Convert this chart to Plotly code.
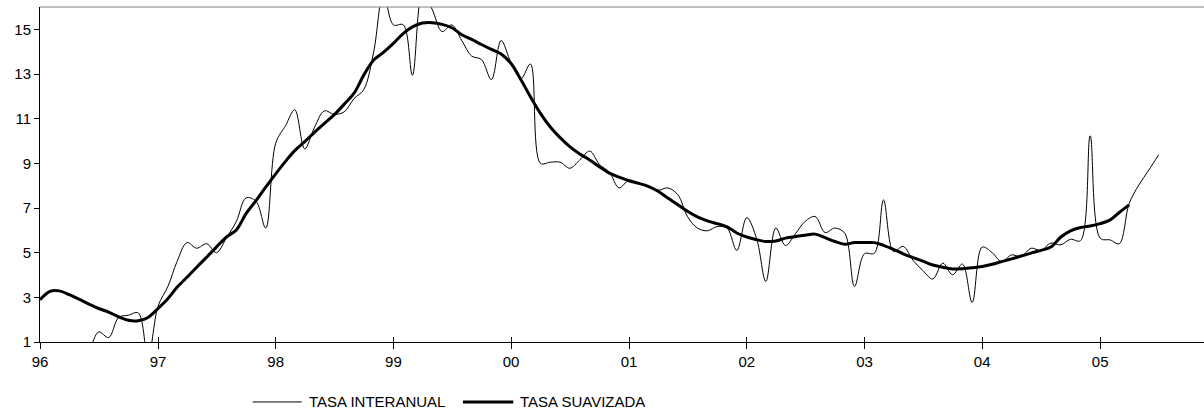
import pandas as pd
import plotly.graph_objects as go

# Monthly data, starting January 1996
start_month = "1996-01-01"

tasa_interanual = [
    0.4, 0.3, 0.3, 0.4, 0.5, 0.7, 1.45, 1.2, 2.1, 2.2, 2.3, 0.3,          # 1996
    2.6, 3.5, 4.6, 5.45, 5.2, 5.4, 5.0, 5.66, 6.4, 7.45, 7.3, 6.1,        # 1997
    9.9, 10.7, 11.4, 9.65, 10.6, 11.35, 11.2, 11.3, 11.9, 12.3, 14.0, 16.6,  # 1998
    15.2, 15.2, 12.95, 16.6, 15.9, 14.9, 15.2, 14.5, 13.8, 13.65, 12.75, 14.5,  # 1999
    13.5, 12.8, 13.45, 9.0, 9.05, 9.05, 8.78, 9.15, 9.55, 8.95, 8.6, 7.9,  # 2000
    8.25, 8.1, 8.0, 7.8, 7.9, 7.6, 6.62, 6.1, 5.98, 6.17, 6.1, 5.1,       # 2001
    6.57, 5.6, 3.71, 6.1, 5.32, 5.85, 6.4, 6.62, 5.9, 6.1, 5.87, 3.49,    # 2002
    4.95, 4.98, 7.36, 5.05, 5.28, 4.65, 4.2, 3.82, 4.53, 4.01, 4.49, 2.77,  # 2003
    5.25, 5.0, 4.6, 4.9, 4.83, 5.2, 5.1, 5.43, 5.35, 5.6, 5.54, 10.23,    # 2004
    5.65, 5.57, 5.4, 7.2, 8.03, 8.7, 9.38,                                # 2005
]

tasa_suavizada = [
    2.89, 3.27, 3.29, 3.12, 2.92, 2.7, 2.5, 2.34, 2.13, 1.97, 1.95, 2.1,   # 1996
    2.5, 2.95, 3.45, 3.9, 4.35, 4.8, 5.25, 5.7, 6.02, 6.75, 7.33, 7.93,    # 1997
    8.53, 9.1, 9.57, 9.97, 10.39, 10.79, 11.17, 11.64, 12.14, 12.95, 13.63, 13.97,  # 1998
    14.37, 14.82, 15.11, 15.28, 15.3, 15.22, 15.07, 14.76, 14.55, 14.32, 14.1, 13.9,  # 1999
    13.47, 12.73, 11.98, 11.24, 10.64, 10.15, 9.75, 9.42, 9.15, 8.85, 8.56, 8.38,  # 2000
    8.22, 8.1, 7.97, 7.75, 7.45, 7.15, 6.85, 6.6, 6.42, 6.3, 6.15, 5.88,   # 2001
    5.7, 5.58, 5.5, 5.52, 5.65, 5.72, 5.78, 5.83, 5.67, 5.5, 5.38, 5.45,   # 2002
    5.45, 5.45, 5.33, 5.15, 4.95, 4.78, 4.62, 4.45, 4.35, 4.27, 4.28, 4.32,  # 2003
    4.38, 4.48, 4.6, 4.72, 4.85, 4.98, 5.1, 5.25, 5.7, 5.98, 6.13, 6.19,   # 2004
    6.3, 6.47, 6.8, 7.14,                                                 # 2005
]

year_ticks = ["1996-01-01", "1997-01-01", "1998-01-01", "1999-01-01", "2000-01-01",
              "2001-01-01", "2002-01-01", "2003-01-01", "2004-01-01", "2005-01-01"]
year_labels = ["96", "97", "98", "99", "00", "01", "02", "03", "04", "05"]
y_ticks = [1, 3, 5, 7, 9, 11, 13, 15]

series_names = ["TASA INTERANUAL", "TASA SUAVIZADA"]

x_thin = pd.date_range(start_month, periods=len(tasa_interanual), freq="MS")
x_thick = pd.date_range(start_month, periods=len(tasa_suavizada), freq="MS")

FONT = "Liberation Sans, Arial, sans-serif"

fig = go.Figure()
fig.add_trace(go.Scatter(x=x_thin, y=tasa_interanual, mode="lines", name=series_names[0],
                         line=dict(color="black", width=1, shape="spline", smoothing=1.0),
                         showlegend=False))
fig.add_trace(go.Scatter(x=x_thick, y=tasa_suavizada, mode="lines", name=series_names[1],
                         line=dict(color="black", width=3, shape="spline", smoothing=1.0),
                         showlegend=False))

x_range = ["1996-01-01", "2005-11-19"]

fig.update_layout(
    width=1204, height=414,
    margin=dict(l=40, r=0, t=7, b=72, autoexpand=False),
    paper_bgcolor="white", plot_bgcolor="white",
    font=dict(family=FONT, size=15, color="black"),
    xaxis=dict(
        range=x_range, type="date", automargin=False,
        tickvals=year_ticks, ticktext=year_labels,
        ticks="outside", ticklen=6, tickcolor="black", tickwidth=1,
        showline=True, linecolor="black", linewidth=1,
        showgrid=False, zeroline=False,
        tickfont=dict(family=FONT, size=15, color="black"),
    ),
    xaxis2=dict(
        range=x_range, type="date", overlaying="x", anchor="y", side="bottom",
        automargin=False,
        tickvals=year_ticks, ticks="inside", ticklen=5, tickcolor="black", tickwidth=1,
        showticklabels=False, showline=False, showgrid=False, zeroline=False,
    ),
    yaxis=dict(
        range=[1, 16], tickvals=y_ticks, automargin=False,
        ticks="outside", ticklen=5, tickcolor="black", tickwidth=1,
        showline=True, linecolor="black", linewidth=1,
        showgrid=False, zeroline=False,
        tickfont=dict(family=FONT, size=15, color="black"),
    ),
    showlegend=False,
)

# dummy trace to make xaxis2 render its inner tick marks
fig.add_trace(go.Scatter(x=[x_range[0]], y=[None], xaxis="x2", yaxis="y",
                         mode="lines", showlegend=False, hoverinfo="skip"))

# top border of the plot area (grey)
fig.add_shape(type="line", xref="paper", yref="paper", x0=0, x1=1, y0=1, y1=1,
              line=dict(color="#808080", width=1))

# manual legend
leg_y = -0.179
fig.add_shape(type="line", xref="paper", yref="paper", x0=0.1827, x1=0.2248, y0=leg_y, y1=leg_y,
              line=dict(color="black", width=1))
fig.add_annotation(xref="paper", yref="paper", x=0.2297, y=leg_y, text=series_names[0],
                   showarrow=False, xanchor="left", yanchor="middle",
                   font=dict(family=FONT, size=15, color="black"))
fig.add_shape(type="line", xref="paper", yref="paper", x0=0.3634, x1=0.4066, y0=leg_y, y1=leg_y,
              line=dict(color="black", width=3))
fig.add_annotation(xref="paper", yref="paper", x=0.4109, y=leg_y, text=series_names[1],
                   showarrow=False, xanchor="left", yanchor="middle",
                   font=dict(family=FONT, size=15, color="black"))

fig.write_html("out.html",
               config={"displayModeBar": False},
               post_script="document.body.style.margin='0';document.body.style.padding='0';"
                           "document.documentElement.style.overflow='hidden';")
